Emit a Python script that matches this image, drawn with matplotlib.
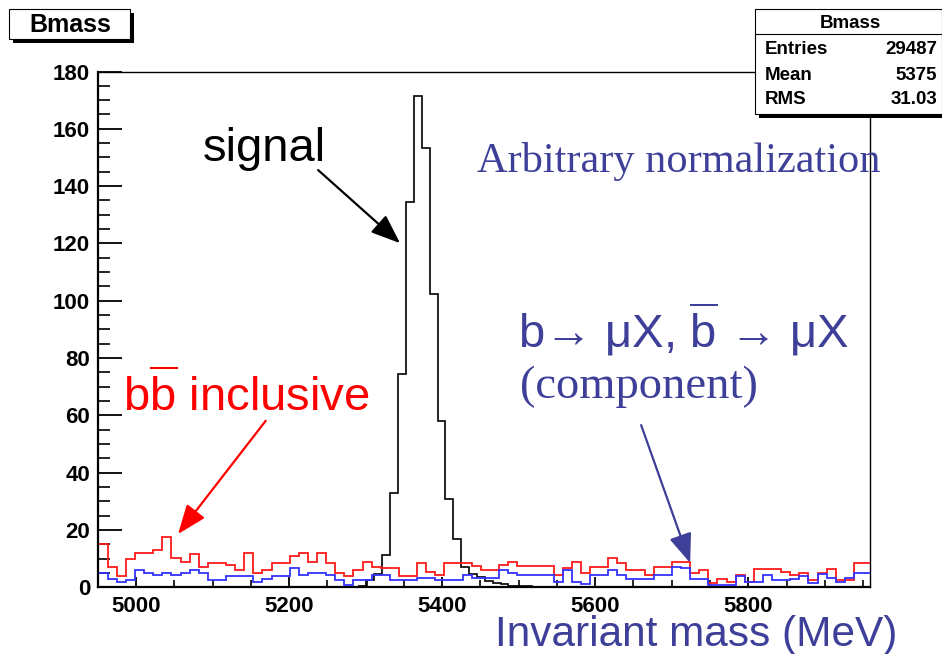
import numpy as np
import matplotlib.pyplot as plt
from matplotlib.patches import Rectangle
from matplotlib.ticker import MultipleLocator

plt.rcParams['font.family'] = 'Liberation Sans'
plt.rcParams['mathtext.fontset'] = 'custom'
plt.rcParams['mathtext.rm'] = 'Liberation Sans'
plt.rcParams['mathtext.it'] = 'Liberation Sans:italic'
plt.rcParams['mathtext.bf'] = 'Liberation Sans:bold'

# signal peak, 10.3 MeV bins starting at 5291 MeV
sig_start = 5291.0
sig_width = 10.3
signal = [0.6, 2.6, 4.7, 11.3, 33, 74.3, 134.5, 171.6, 153.4, 102.2, 58, 30.7,
          16.7, 7, 4.5, 3.5, 2.2, 1.5, 1, 0.5, 0.5, 0.3]

# backgrounds, ~11.9 MeV bins starting at the left edge
bkg_start = 4951.2
bkg_width = 11.89
bb_incl = [15, 7.2, 4, 10, 12, 12, 13, 17.5, 10.1, 8.7,
           11.7, 7.2, 8.4, 8.4, 7.8, 6, 12, 5, 6, 8.5,
           8.5, 11, 12, 9, 12, 8.5, 5, 4, 6, 9,
           7.2, 6.8, 6.8, 4, 4, 8.5, 5.4, 4.3, 8.5, 8.5,
           8.5, 7.3, 6, 6, 7.8, 9, 7.3, 7.3, 7.3, 7.3,
           4.3, 6.9, 9, 5, 7.2, 7.2, 10.1, 8.5, 6, 6,
           4.3, 7.2, 7.2, 9, 9, 5, 6, 1.4, 2.8, 2,
           4.3, 2, 6.3, 6.3, 6.3, 5.4, 4.3, 5, 2.6, 5,
           6.3, 2.6, 2.6, 8.5, 8.5]
b_mux = [5.1, 2.8, 2, 2.6, 6, 5.1, 4.3, 5, 4.3, 5,
         6, 5, 2.6, 2.6, 4, 4, 4, 2, 3, 4,
         4, 6.6, 4.3, 5, 5, 4.3, 2.6, 0.9, 2.6, 2.6,
         4.3, 4.3, 2.6, 2.6, 2.6, 3.3, 3.3, 2.6, 2.6, 2.6,
         4.3, 3.3, 3.3, 3.3, 6, 5.1, 4.3, 4.3, 4.3, 4.3,
         2, 6, 2, 1.3, 4.3, 4.3, 6, 4.3, 2.8, 2.8,
         2.8, 4.3, 4.3, 7.2, 6.6, 2.8, 2.8, 0.9, 0.9, 0.9,
         4, 2, 2, 4.3, 2.6, 2.6, 2.8, 4, 1.4, 4.8,
         3.3, 2, 3.3, 5.1, 5.1]

stats_labels = ['Entries', 'Mean', 'RMS']
stats_values = ['29487', '5375', '31.03']

sig_edges = sig_start + sig_width * np.arange(len(signal) + 1)
bkg_edges = bkg_start + bkg_width * np.arange(len(bb_incl) + 1)

W, H = 942, 654
fig = plt.figure(figsize=(W / 100, H / 100), dpi=100)
fig.patch.set_facecolor('white')
ax = fig.add_axes([97.7 / W, 1 - 587.3 / H, (870 - 97.7) / W, (587.3 - 71.5) / H])

ax.stairs(signal, sig_edges, color='black', lw=1.2, baseline=0, zorder=2)
ax.stairs(bb_incl, bkg_edges, color='#ff1a1a', lw=1.3, baseline=None, zorder=3)
ax.stairs(b_mux, bkg_edges, color='#3333ff', lw=1.3, baseline=None, zorder=4)

ax.set_xlim(4950, 5959)
ax.set_ylim(0, 180)
ax.xaxis.set_major_locator(MultipleLocator(200))
ax.xaxis.set_minor_locator(MultipleLocator(50))
ax.yaxis.set_major_locator(MultipleLocator(20))
ax.yaxis.set_minor_locator(MultipleLocator(5))
ax.tick_params(axis='y', which='major', direction='in', length=17, width=1.3, pad=5.5)
ax.tick_params(axis='y', which='minor', direction='in', length=8.5, width=1.2)
ax.tick_params(axis='x', which='major', direction='in', length=7.5, width=1.3, pad=6)
ax.tick_params(axis='x', which='minor', direction='in', length=5, width=1.2)
for lab in ax.get_xticklabels() + ax.get_yticklabels():
    lab.set_fontsize(16)
    lab.set_fontweight('bold')
for s in ['left', 'bottom']:
    ax.spines[s].set_linewidth(1.6)
for s in ['top', 'right']:
    ax.spines[s].set_linewidth(1.0)

# arrows
head = '-|>,head_length=0.9,head_width=0.35'
ax.annotate('', xy=(5345, 120.1), xytext=(5238, 145.6),
            arrowprops=dict(arrowstyle=head, color='black', lw=1.6,
                            mutation_scale=20, shrinkA=0, shrinkB=0))
ax.annotate('', xy=(5055, 18.6), xytext=(5169.5, 58.1),
            arrowprops=dict(arrowstyle=head, color='red', lw=1.6,
                            mutation_scale=20, shrinkA=0, shrinkB=0))
ax.annotate('', xy=(5724, 8.5), xytext=(5660, 56.6),
            arrowprops=dict(arrowstyle=head, color='#3d3f98', lw=1.6,
                            mutation_scale=20, shrinkA=0, shrinkB=0))

navy = '#3d3f98'
fig.text(203 / W, 1 - 161 / H, 'signal', fontsize=34, color='black', va='baseline')
fig.text(123 / W, 1 - 412 / H, r'b$\overline{\mathrm{b}}$ inclusive', fontsize=34,
         color='red', va='baseline')
fig.text(477 / W, 1 - 172 / H, 'Arbitrary normalization', fontsize=30.5,
         family='Liberation Serif', color=navy, va='baseline')
fig.text(518 / W, 1 - 347 / H, r'b→ μX, $\overline{\mathrm{b}}$ → μX',
         fontsize=34, color=navy, va='baseline')
fig.text(520 / W, 1 - 398 / H, '(component)', fontsize=33.5,
         family='Liberation Serif', color=navy, va='baseline')
fig.text(495 / W, 1 - 646 / H, 'Invariant mass (MeV)', fontsize=30.5,
         color=navy, va='baseline')

# title box with shadow
def px_rect(x0, y0, x1, y1, **kw):
    return Rectangle((x0 / W, 1 - y1 / H), (x1 - x0) / W, (y1 - y0) / H,
                     transform=fig.transFigure, **kw)

fig.add_artist(px_rect(13, 13, 134, 43, facecolor='black', edgecolor='none'))
fig.add_artist(px_rect(9.3, 9.3, 130, 39.3, facecolor='white', edgecolor='black', lw=0.8))
fig.text(70 / W, 1 - 25 / H, 'Bmass', fontsize=18, fontweight='bold',
         ha='center', va='center')

# stats box
fig.add_artist(px_rect(759, 13, 946, 118, facecolor='black', edgecolor='none'))
fig.add_artist(px_rect(755, 9.3, 941.5, 114, facecolor='white', edgecolor='black', lw=0.8))
fig.add_artist(plt.Line2D([755 / W, 941.5 / W], [1 - 34.3 / H, 1 - 34.3 / H],
                          transform=fig.transFigure, color='black', lw=0.8))
fig.text(850 / W, 1 - 23 / H, 'Bmass', fontsize=13.5, fontweight='bold',
         ha='center', va='center')
for i, (lab, val) in enumerate(zip(stats_labels, stats_values)):
    yy = 1 - (50 + 25 * i) / H
    fig.text(765 / W, yy, lab, fontsize=13.5, fontweight='bold', va='center')
    fig.text(937 / W, yy, val, fontsize=13.5, fontweight='bold', va='center', ha='right')

fig.savefig('out.png', dpi=100)
